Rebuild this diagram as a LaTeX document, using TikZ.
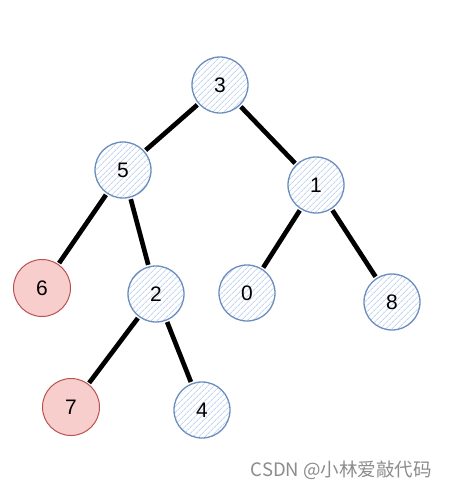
\documentclass[tikz,border=0pt]{standalone}
\usepackage{fontspec}
\setmainfont{Liberation Sans}
\newfontfamily\cjk{Noto Sans CJK SC}
\usetikzlibrary{patterns.meta}
\definecolor{bluefill}{HTML}{C4D6F0}
\definecolor{bluedraw}{HTML}{6C8EBF}
\definecolor{redfill}{HTML}{F8CECC}
\definecolor{reddraw}{HTML}{B85450}
\tikzset{
  bnode/.style={circle, minimum size=56pt, inner sep=0pt, draw=bluedraw, line width=1.3pt,
    preaction={fill=white},
    pattern={Lines[angle=45,distance=4pt,line width=0.9pt]}, pattern color=bluefill,
    font=\fontsize{21}{21}\selectfont},
  rnode/.style={circle, minimum size=57pt, inner sep=0pt, draw=reddraw, line width=1pt,
    fill=redfill, font=\fontsize{21}{21}\selectfont},
  edgeshadow/.style={draw=black!28, line width=4.6pt, shorten >=2pt, shorten <=2pt},
  edgemain/.style={draw=black, line width=4.6pt, shorten >=2pt, shorten <=2pt},
}
\begin{document}
\begin{tikzpicture}[x=1pt,y=-1pt]
\useasboundingbox (0,0) rectangle (448,490);
\fill[white] (0,0) rectangle (448,490);
% node positions
\coordinate (p3) at (220,85);
\coordinate (p5) at (123,170);
\coordinate (p1) at (316,185);
\coordinate (p6) at (42,288);
\coordinate (p2) at (156,294);
\coordinate (p0) at (247,293);
\coordinate (p8) at (392,302);
\coordinate (p7) at (71,407);
\coordinate (p4) at (202,410);
% invisible placeholders for edges
\foreach \n in {3,5,1,6,2,0,8,7,4} {\node[circle, minimum size=56pt, inner sep=0pt] (e\n) at (p\n) {};}
% shadows
\begin{scope}[shift={(3,4)}]
\foreach \a/\b in {3/5,3/1,5/6,5/2,1/0,1/8,2/7,2/4} {\draw[edgeshadow] (e\a) -- (e\b);}
\end{scope}
\foreach \a/\b in {3/5,3/1,5/6,5/2,1/0,1/8,2/7,2/4} {\draw[edgemain] (e\a) -- (e\b);}
% nodes
\node[bnode] (n3) at (p3) {3};
\node[bnode] (n5) at (p5) {5};
\node[bnode] (n1) at (p1) {1};
\node[rnode] (n6) at (p6) {6};
\node[bnode] (n2) at (p2) {2};
\node[bnode] (n0) at (p0) {0};
\node[bnode] (n8) at (p8) {8};
\node[rnode] (n7) at (p7) {7};
\node[bnode] (n4) at (p4) {4};
\node[anchor=base east, text=black!45, font=\cjk\fontsize{18.5}{18.5}\selectfont, inner sep=0pt] (wm) at (432,476) {CSDN @小林爱敲代码};
\end{tikzpicture}
\end{document}
